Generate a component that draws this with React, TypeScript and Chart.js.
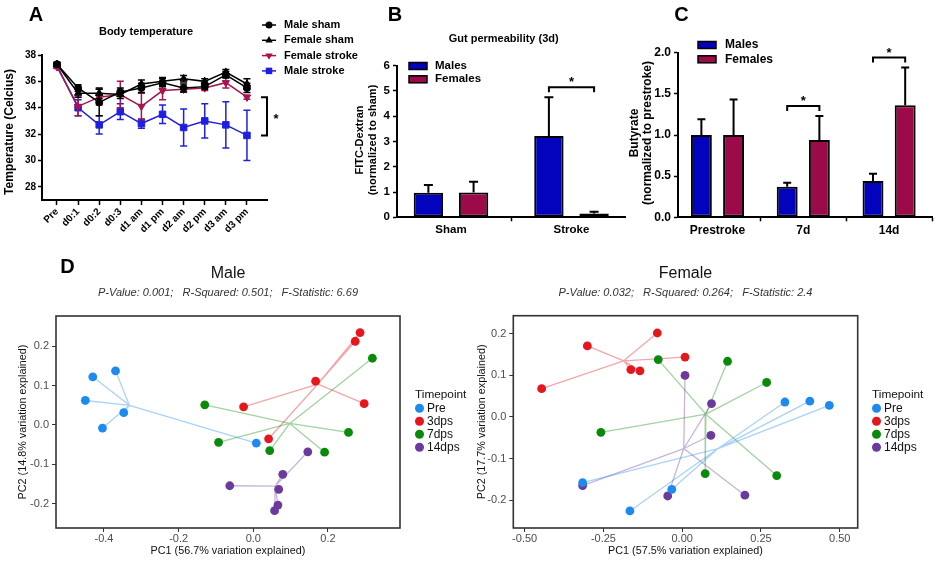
import React, { useEffect, useRef } from 'react';
import { Chart, registerables } from 'chart.js';

Chart.register(...registerables);

const FONT = '"Liberation Sans", Arial, Helvetica, sans-serif';
Chart.defaults.font.family = FONT;

const W = 936;
const H = 561;

// ---------------- Panel A: body temperature ----------------
const timeLabels = ['Pre', 'd0:1', 'd0:2', 'd0:3', 'd1 am', 'd1 pm', 'd2 am', 'd2 pm', 'd3 am', 'd3 pm'];
const tempTicks = [28, 30, 32, 34, 36, 38];
const maleShamTemp = [37.3, 35.5, 34.4, 35.2, 35.5, 35.9, 35.5, 35.6, 36.5, 35.5];
const maleShamErr = [0.15, 0.25, 1.0, 0.3, 0.35, 0.3, 0.3, 0.2, 0.25, 0.35];
const femaleShamTemp = [37.3, 35.1, 35.1, 35.0, 35.8, 36.0, 36.2, 36.0, 36.7, 35.8];
const femaleShamErr = [0.1, 0.3, 0.4, 0.3, 0.3, 0.3, 0.25, 0.2, 0.2, 0.4];
const femaleStrokeTemp = [37.1, 34.1, 34.8, 35.0, 34.1, 35.3, 35.4, 35.5, 35.9, 34.8];
const femaleStrokeErr = [0.1, 0.7, 0.6, 1.0, 1.0, 0.7, 0.2, 0.2, 0.4, 0.15];
const maleStrokeTemp = [37.2, 34.0, 32.7, 33.7, 32.8, 33.5, 32.5, 33.0, 32.7, 31.9];
const maleStrokeErr = [0.1, 0.6, 0.7, 0.6, 0.35, 0.7, 1.4, 1.3, 1.75, 1.9];

// ---------------- Panel B: gut permeability ----------------
const gutGroups = ['Sham', 'Stroke'];
const gutTicks = [0, 1, 2, 3, 4, 5, 6];
const gutMales = [0.97, 3.22];
const gutMalesErr = [0.31, 1.53];
const gutFemales = [0.98, 0.15];
const gutFemalesErr = [0.43, 0.07];
const gutSig = [1];

// ---------------- Panel C: butyrate ----------------
const butyrateGroups = ['Prestroke', '7d', '14d'];
const butyrateTicks = [0, 0.5, 1.0, 1.5, 2.0];
const butyrateMales = [1.0, 0.37, 0.44];
const butyrateMalesErr = [0.19, 0.05, 0.09];
const butyrateFemales = [1.0, 0.94, 1.36];
const butyrateFemalesErr = [0.43, 0.29, 0.46];
const butyrateSig = [1, 2];

// ---------------- Panel D: PCA ----------------
const timepoints = ['Pre', '3dps', '7dps', '14dps'];
const pcaTicksY = [-0.2, -0.1, 0, 0.1, 0.2];
const maleTicksX = [-0.4, -0.2, 0, 0.2];
const femaleTicksX = [-0.5, -0.25, 0, 0.25, 0.5];

const malePre = [[-0.369, 0.137], [-0.43, 0.122], [-0.45, 0.062], [-0.347, 0.031], [-0.404, -0.008], [0.008, -0.046]];
const male3dps = [[0.286, 0.234], [0.273, 0.212], [0.167, 0.111], [0.297, 0.054], [-0.026, 0.046], [0.041, -0.035]];
const male7dps = [[-0.13, 0.051], [-0.093, -0.044], [0.319, 0.169], [0.255, -0.019], [0.191, -0.069], [0.044, -0.065]];
const male14dps = [[-0.063, -0.154], [0.146, -0.068], [0.079, -0.125], [0.068, -0.163], [0.066, -0.203], [0.057, -0.217]];

const femalePre = [[-0.316, -0.158], [-0.033, -0.174], [-0.166, -0.226], [0.326, 0.036], [0.405, 0.038], [0.467, 0.028]];
const female3dps = [[-0.446, 0.068], [-0.301, 0.171], [-0.079, 0.202], [-0.163, 0.114], [-0.134, 0.111], [0.009, 0.144]];
const female7dps = [[-0.076, 0.138], [-0.258, -0.037], [0.073, -0.136], [0.144, 0.134], [0.268, 0.083], [0.3, -0.141]];
const female14dps = [[-0.316, -0.165], [0.009, 0.1], [-0.046, -0.19], [0.093, 0.032], [0.091, -0.044], [0.199, -0.188]];

const maleStats = 'P-Value: 0.001;   R-Squared: 0.501;   F-Statistic: 6.69';
const femaleStats = 'P-Value: 0.032;   R-Squared: 0.264;   F-Statistic: 2.4';

// ---------------- styles ----------------
const C_BLACK = '#000000';
const C_CRIMSON = '#A8134F';
const C_BLUE = '#1F1FE0';
const C_BAR_M = '#0303BE';
const C_BAR_F = '#9C0A4A';
const PCA_COLORS = ['#1E8AF0', '#E5161C', '#0A8A0A', '#6A3A9C'];
const PCA_LINES = ['rgba(30,138,240,0.38)', 'rgba(229,22,28,0.38)', 'rgba(10,138,10,0.38)', 'rgba(106,58,156,0.38)'];

function drawText(ctx: any, s: string, x: number, y: number, font: string, color = '#000', align = 'center', rot = 0, baseline = 'middle') {
  ctx.save();
  ctx.translate(x, y);
  if (rot) ctx.rotate(rot);
  ctx.font = font;
  ctx.fillStyle = color;
  ctx.textAlign = align;
  ctx.textBaseline = baseline;
  ctx.fillText(s, 0, 0);
  ctx.restore();
}

function drawMarker(ctx: any, style: string, rot: number, r: number, x: number, y: number, color: string) {
  ctx.save();
  ctx.fillStyle = color;
  ctx.translate(x, y);
  ctx.rotate((rot * Math.PI) / 180);
  ctx.beginPath();
  if (style === 'circle') ctx.arc(0, 0, r, 0, Math.PI * 2);
  else if (style === 'triangle') {
    ctx.moveTo(0, -r);
    ctx.lineTo(r * 0.866, r * 0.5);
    ctx.lineTo(-r * 0.866, r * 0.5);
    ctx.closePath();
  } else {
    const s = r * Math.SQRT1_2;
    ctx.rect(-s, -s, 2 * s, 2 * s);
  }
  ctx.fill();
  ctx.restore();
}

const fixedWidth = (w: number) => (scale: any) => { scale.width = w; };
const fixedHeight = (h: number) => (scale: any) => { scale.height = h; };
const tickValues = (vals: number[]) => (scale: any) => { scale.ticks = vals.map((v) => ({ value: v })); };
const star = (ctx: any, x: number, y: number) => drawText(ctx, '*', x, y + 7, `bold 13px ${FONT}`, '#000', 'center', 0, 'alphabetic');

// ---------------- Panel A ----------------
function buildA(canvas: HTMLCanvasElement) {
  const mk = (label: string, values: number[], errors: number[], color: string, style: string, radius: number, rotation = 0) => ({
    type: 'line',
    label,
    data: values.map((y, i) => ({ x: i, y })),
    errors,
    borderColor: color,
    backgroundColor: color,
    borderWidth: 1.5,
    pointStyle: style,
    pointRadius: radius,
    pointRotation: rotation,
    pointBorderWidth: 1,
    tension: 0,
    fill: false,
  });
  const datasets: any[] = [
    mk('Male sham', maleShamTemp, maleShamErr, C_BLACK, 'circle', 3.5),
    mk('Female sham', femaleShamTemp, femaleShamErr, C_BLACK, 'triangle', 4.2),
    mk('Female stroke', femaleStrokeTemp, femaleStrokeErr, C_CRIMSON, 'triangle', 4.2, 180),
    mk('Male stroke', maleStrokeTemp, maleStrokeErr, C_BLUE, 'rect', 4.6),
  ];
  const errorBars = {
    id: 'errA',
    afterDatasetDraw(chart: any, args: any) {
      const ds = chart.data.datasets[args.index];
      const { x, y } = chart.scales;
      const ctx = chart.ctx;
      ctx.save();
      ctx.strokeStyle = ds.borderColor;
      ctx.lineWidth = 1.5;
      ds.data.forEach((p: any, i: number) => {
        const e = ds.errors[i];
        const px = x.getPixelForValue(p.x);
        const t = y.getPixelForValue(p.y + e);
        const b = y.getPixelForValue(p.y - e);
        ctx.beginPath();
        ctx.moveTo(px, t); ctx.lineTo(px, b);
        ctx.moveTo(px - 3.5, t); ctx.lineTo(px + 3.5, t);
        ctx.moveTo(px - 3.5, b); ctx.lineTo(px + 3.5, b);
        ctx.stroke();
      });
      ctx.restore();
    },
  };
  const decor = {
    id: 'decorA',
    afterDraw(chart: any) {
      const ctx = chart.ctx;
      const y = chart.scales.y;
      drawText(ctx, 'A', 36, 15, `bold 20px ${FONT}`);
      drawText(ctx, 'Body temperature', 146, 32, `bold 11px ${FONT}`);
      drawText(ctx, 'Temperature (Celcius)', 10, 132, `bold 12px ${FONT}`, '#000', 'center', -Math.PI / 2);
      const last = timeLabels.length - 1;
      const yt = y.getPixelForValue(femaleStrokeTemp[last]);
      const yb = y.getPixelForValue(maleStrokeTemp[last]);
      const bx = chart.chartArea.right;
      ctx.save();
      ctx.strokeStyle = '#000';
      ctx.lineWidth = 2;
      ctx.beginPath();
      ctx.moveTo(bx - 6, yt); ctx.lineTo(bx, yt); ctx.lineTo(bx, yb); ctx.lineTo(bx - 6, yb);
      ctx.stroke();
      ctx.restore();
      star(ctx, bx + 9, (yt + yb) / 2);
      chart.data.datasets.forEach((ds: any, i: number) => {
        const ly = 25 + i * 15.3;
        ctx.save();
        ctx.strokeStyle = ds.borderColor;
        ctx.lineWidth = 1.5;
        ctx.beginPath(); ctx.moveTo(262, ly); ctx.lineTo(276, ly); ctx.stroke();
        ctx.restore();
        drawMarker(ctx, ds.pointStyle, ds.pointRotation, ds.pointRadius, 269, ly, ds.borderColor);
        drawText(ctx, ds.label, 284, ly, `bold 11px ${FONT}`, '#000', 'left');
      });
    },
  };
  return new Chart(canvas, {
    type: 'line',
    data: { datasets },
    options: {
      responsive: false,
      animation: false,
      devicePixelRatio: 1,
      layout: { padding: { left: 0, top: 55, right: W - 267, bottom: H - 200 - 40 } },
      plugins: { legend: { display: false }, tooltip: { enabled: false } },
      scales: {
        x: {
          type: 'linear', min: -0.71, max: 9.95,
          afterBuildTicks: tickValues(timeLabels.map((_, i) => i)),
          afterFit: fixedHeight(40),
          grid: { display: true, drawOnChartArea: false, drawTicks: true, tickLength: 5, tickColor: '#000', tickWidth: 1.5 },
          border: { display: true, color: '#000', width: 2 },
          ticks: {
            autoSkip: false, maxRotation: 45, minRotation: 45, padding: 1, color: '#000',
            font: { size: 10, weight: 'bold' },
            callback: (v: any) => timeLabels[Math.round(Number(v))] ?? '',
          },
        },
        y: {
          min: 27, max: 38,
          afterBuildTicks: tickValues(tempTicks),
          afterFit: fixedWidth(42),
          grid: { display: true, drawOnChartArea: false, drawTicks: true, tickLength: 4, tickColor: '#000', tickWidth: 1.5 },
          border: { display: true, color: '#000', width: 2 },
          ticks: { padding: 2, color: '#000', font: { size: 10, weight: 'bold' } },
        },
      },
    } as any,
    plugins: [errorBars, decor],
  } as any);
}

// ---------------- Bar panels (B, C) ----------------
function buildBars(canvas: HTMLCanvasElement, cfg: any) {
  const datasets = [
    { type: 'bar', label: 'Males', data: cfg.males.map((y: number, i: number) => ({ x: i, y })), errors: cfg.malesErr, backgroundColor: C_BAR_M },
    { type: 'bar', label: 'Females', data: cfg.females.map((y: number, i: number) => ({ x: i, y })), errors: cfg.femalesErr, backgroundColor: C_BAR_F },
  ].map((d) => ({ ...d, borderColor: '#000', borderWidth: 2, borderSkipped: false, categoryPercentage: 0.75, barPercentage: 0.65 }));
  const a = cfg.area;
  const decor = {
    id: 'decorBars',
    afterDatasetsDraw(chart: any) {
      const ctx = chart.ctx;
      const y = chart.scales.y;
      chart.data.datasets.forEach((ds: any, di: number) => {
        const meta = chart.getDatasetMeta(di);
        meta.data.forEach((el: any, i: number) => {
          const top = y.getPixelForValue(ds.data[i].y + ds.errors[i]);
          ctx.save();
          ctx.strokeStyle = '#000';
          ctx.lineWidth = 2;
          ctx.beginPath();
          ctx.moveTo(el.x, el.y); ctx.lineTo(el.x, top);
          ctx.moveTo(el.x - cfg.cap / 2, top); ctx.lineTo(el.x + cfg.cap / 2, top);
          ctx.stroke();
          ctx.restore();
        });
      });
      cfg.sig.forEach((g: number) => {
        const d0 = chart.data.datasets[0];
        const d1 = chart.data.datasets[1];
        const e0 = chart.getDatasetMeta(0).data[g];
        const e1 = chart.getDatasetMeta(1).data[g];
        const topVal = Math.max(d0.data[g].y + d0.errors[g], d1.data[g].y + d1.errors[g]);
        const yb = y.getPixelForValue(topVal) - 10;
        ctx.save();
        ctx.strokeStyle = '#000';
        ctx.lineWidth = 2;
        ctx.beginPath();
        ctx.moveTo(e0.x, yb + 5); ctx.lineTo(e0.x, yb); ctx.lineTo(e1.x, yb); ctx.lineTo(e1.x, yb + 5);
        ctx.stroke();
        ctx.restore();
        star(ctx, (e0.x + e1.x) / 2, yb - 8);
      });
    },
    afterDraw(chart: any) {
      const ctx = chart.ctx;
      cfg.texts(ctx);
      chart.data.datasets.forEach((ds: any, i: number) => {
        const ly = cfg.legendY[i];
        ctx.save();
        ctx.fillStyle = ds.backgroundColor;
        ctx.strokeStyle = '#000';
        ctx.lineWidth = 1.5;
        ctx.fillRect(cfg.legendX, ly - 3.5, 18, 7);
        ctx.strokeRect(cfg.legendX, ly - 3.5, 18, 7);
        ctx.restore();
        drawText(ctx, ds.label, cfg.legendTextX, ly, `bold ${cfg.legendFont}px ${FONT}`, '#000', 'left');
      });
    },
  };
  return new Chart(canvas, {
    type: 'bar',
    data: { datasets },
    options: {
      responsive: false,
      animation: false,
      devicePixelRatio: 1,
      layout: { padding: { left: a.left - cfg.yWidth, top: a.top, right: W - a.right, bottom: H - a.bottom - 25 } },
      plugins: { legend: { display: false }, tooltip: { enabled: false } },
      scales: {
        x: {
          type: 'linear', offset: false, min: cfg.xMin, max: cfg.xMax,
          afterBuildTicks: tickValues(cfg.groups.map((_: any, i: number) => i)),
          afterFit: fixedHeight(25),
          grid: { display: true, drawOnChartArea: false, drawTicks: true, tickLength: 4, tickColor: '#000', tickWidth: 1.5 },
          border: { display: true, color: '#000', width: 2 },
          ticks: { autoSkip: false, maxRotation: 0, padding: 2, color: '#000', font: { size: cfg.xFont, weight: 'bold' }, callback: (v: any) => cfg.groups[Math.round(Number(v))] ?? '' },
        },
        y: {
          min: 0, max: cfg.yMax,
          afterBuildTicks: tickValues(cfg.yTicks),
          afterFit: fixedWidth(cfg.yWidth),
          grid: { display: true, drawOnChartArea: false, drawTicks: true, tickLength: 4, tickColor: '#000', tickWidth: 1.5 },
          border: { display: true, color: '#000', width: 2 },
          ticks: { padding: 3, color: '#000', font: { size: cfg.yFont, weight: 'bold' }, callback: cfg.yFormat },
        },
      },
    } as any,
    plugins: [decor],
  } as any);
}

function buildB(canvas: HTMLCanvasElement) {
  return buildBars(canvas, {
    groups: gutGroups, males: gutMales, malesErr: gutMalesErr, females: gutFemales, femalesErr: gutFemalesErr,
    sig: gutSig, yTicks: gutTicks, yMax: 6, yFormat: (v: any) => String(v),
    area: { left: 397, right: 625, top: 65.7, bottom: 217.3 }, yWidth: 45,
    xMin: -0.448, xMax: 1.444, cap: 9, xFont: 11.5, yFont: 11.5,
    legendX: 409, legendTextX: 435, legendY: [66, 79.3], legendFont: 11.5,
    texts: (ctx: any) => {
      drawText(ctx, 'B', 395, 15, `bold 20px ${FONT}`);
      drawText(ctx, 'Gut permeability (3d)', 503.7, 39, `bold 11px ${FONT}`);
      drawText(ctx, 'FITC-Dextran', 360, 140, `bold 11px ${FONT}`, '#000', 'center', -Math.PI / 2);
      drawText(ctx, '(normalized to sham)', 373, 140, `bold 11px ${FONT}`, '#000', 'center', -Math.PI / 2);
    },
  });
}

function buildC(canvas: HTMLCanvasElement) {
  return buildBars(canvas, {
    groups: butyrateGroups, males: butyrateMales, malesErr: butyrateMalesErr, females: butyrateFemales, femalesErr: butyrateFemalesErr,
    sig: butyrateSig, yTicks: butyrateTicks, yMax: 2, yFormat: (v: any) => Number(v).toFixed(1),
    area: { left: 678, right: 932, top: 52.7, bottom: 217.3 }, yWidth: 48,
    xMin: -0.46, xMax: 2.5, cap: 8, xFont: 12, yFont: 12,
    legendX: 698, legendTextX: 725, legendY: [45, 59.3], legendFont: 12,
    texts: (ctx: any) => {
      drawText(ctx, 'C', 681.5, 15, `bold 20px ${FONT}`);
      drawText(ctx, 'Butyrate', 635, 133, `bold 12px ${FONT}`, '#000', 'center', -Math.PI / 2);
      drawText(ctx, '(normalized to prestroke)', 648, 133, `bold 12px ${FONT}`, '#000', 'center', -Math.PI / 2);
    },
  });
}

// ---------------- PCA panels (D) ----------------
function centroid(pts: number[][]) {
  const n = pts.length;
  return [pts.reduce((s, p) => s + p[0], 0) / n, pts.reduce((s, p) => s + p[1], 0) / n];
}

function spiderData(pts: number[][]) {
  const [cx, cy] = centroid(pts);
  const out: any[] = [];
  pts.forEach((p) => {
    out.push({ x: cx, y: cy }, { x: p[0], y: p[1] }, { x: cx, y: null });
  });
  return out;
}

function buildPca(canvas: HTMLCanvasElement, cfg: any) {
  const datasets: any[] = [];
  cfg.groups.forEach((pts: number[][], g: number) => {
    datasets.push({
      type: 'line', label: timepoints[g] + ' spider', data: spiderData(pts), borderColor: PCA_LINES[g], borderWidth: 1.3,
      pointRadius: 0, spanGaps: false, tension: 0, fill: false, order: 2,
    });
  });
  cfg.groups.forEach((pts: number[][], g: number) => {
    datasets.push({
      type: 'line', label: timepoints[g], data: pts.map((p) => ({ x: p[0], y: p[1] })), showLine: false,
      pointRadius: 4.4, pointBorderWidth: 0, backgroundColor: PCA_COLORS[g], borderColor: PCA_COLORS[g], order: 1,
    });
  });
  const a = cfg.area;
  const decor = {
    id: 'decorPca',
    afterDraw(chart: any) {
      const ctx = chart.ctx;
      const ca = chart.chartArea;
      ctx.save();
      ctx.strokeStyle = '#333';
      ctx.lineWidth = 1.6;
      ctx.strokeRect(ca.left, ca.top, ca.right - ca.left, ca.bottom - ca.top);
      ctx.restore();
      const cx = (ca.left + ca.right) / 2;
      const cy = (ca.top + ca.bottom) / 2;
      drawText(ctx, cfg.title, cx, 273.5, `16px ${FONT}`, '#111');
      drawText(ctx, cfg.stats, cx, 292.5, `italic 11px ${FONT}`, '#333');
      drawText(ctx, cfg.xTitle, cx, 551, `10.8px ${FONT}`, '#111');
      drawText(ctx, cfg.yTitle, cfg.yTitleX, cy, `10.8px ${FONT}`, '#111', 'center', -Math.PI / 2);
      if (cfg.letter) drawText(ctx, cfg.letter, 67.5, 267.5, `bold 20px ${FONT}`);
      drawText(ctx, 'Timepoint', cfg.legendX, 395, `11.8px ${FONT}`, '#111', 'left');
      timepoints.forEach((t, i) => {
        const ly = 408.3 + i * 13;
        ctx.save();
        ctx.fillStyle = PCA_COLORS[i];
        ctx.beginPath();
        ctx.arc(cfg.legendX + 4.5, ly, 4.5, 0, Math.PI * 2);
        ctx.fill();
        ctx.restore();
        drawText(ctx, t, cfg.legendX + 12, ly, `12px ${FONT}`, '#111', 'left');
      });
    },
  };
  const axisCommon = {
    grid: { display: true, drawOnChartArea: false, drawTicks: true, tickLength: 4, tickColor: '#333', tickWidth: 1 },
    border: { display: false },
  };
  return new Chart(canvas, {
    type: 'line',
    data: { datasets },
    options: {
      responsive: false,
      animation: false,
      devicePixelRatio: 1,
      layout: { padding: { left: a.left - 40, top: a.top, right: W - a.right, bottom: H - a.bottom - 20 } },
      plugins: { legend: { display: false }, tooltip: { enabled: false } },
      scales: {
        x: {
          ...axisCommon,
          type: 'linear', min: cfg.xMin, max: cfg.xMax,
          afterBuildTicks: tickValues(cfg.xTicks),
          afterFit: fixedHeight(20),
          ticks: { autoSkip: false, maxRotation: 0, padding: 0, color: '#4D4D4D', font: { size: 11 }, callback: (v: any) => Number(v).toFixed(cfg.xDigits) },
        },
        y: {
          ...axisCommon,
          type: 'linear', min: cfg.yMin, max: cfg.yMax,
          afterBuildTicks: tickValues(pcaTicksY),
          afterFit: fixedWidth(40),
          ticks: { padding: 3, color: '#4D4D4D', font: { size: 11 }, callback: (v: any) => Number(v).toFixed(1) },
        },
      },
    } as any,
    plugins: [decor],
  } as any);
}

function buildMale(canvas: HTMLCanvasElement) {
  return buildPca(canvas, {
    groups: [malePre, male3dps, male7dps, male14dps],
    area: { left: 56, right: 400, top: 316, bottom: 528 },
    xMin: -0.5285, xMax: 0.393, yMin: -0.261, yMax: 0.276, xTicks: maleTicksX, xDigits: 1,
    title: 'Male', stats: maleStats, letter: 'D',
    xTitle: 'PC1 (56.7% variation explained)', yTitle: 'PC2 (14.8% variation explained)', yTitleX: 23,
    legendX: 415,
  });
}

function buildFemale(canvas: HTMLCanvasElement) {
  return buildPca(canvas, {
    groups: [femalePre, female3dps, female7dps, female14dps],
    area: { left: 513.3, right: 857.7, top: 315.7, bottom: 528 },
    xMin: -0.536, xMax: 0.557, yMin: -0.267, yMax: 0.2436, xTicks: femaleTicksX, xDigits: 2,
    title: 'Female', stats: femaleStats, letter: '',
    xTitle: 'PC1 (57.5% variation explained)', yTitle: 'PC2 (17.7% variation explained)', yTitleX: 481.7,
    legendX: 872,
  });
}

function ChartCanvas({ build }: { build: (c: HTMLCanvasElement) => Chart }) {
  const ref = useRef<HTMLCanvasElement>(null);
  useEffect(() => {
    const chart = build(ref.current as HTMLCanvasElement);
    return () => chart.destroy();
  }, [build]);
  return <canvas ref={ref} width={W} height={H} style={{ position: 'absolute', left: 0, top: 0, width: W, height: H }} />;
}

export default function App() {
  return (
    <div style={{ position: 'absolute', left: 0, top: 0, width: W, height: H, background: '#fff', overflow: 'hidden' }}>
      <ChartCanvas build={buildA} />
      <ChartCanvas build={buildB} />
      <ChartCanvas build={buildC} />
      <ChartCanvas build={buildMale} />
      <ChartCanvas build={buildFemale} />
    </div>
  );
}
